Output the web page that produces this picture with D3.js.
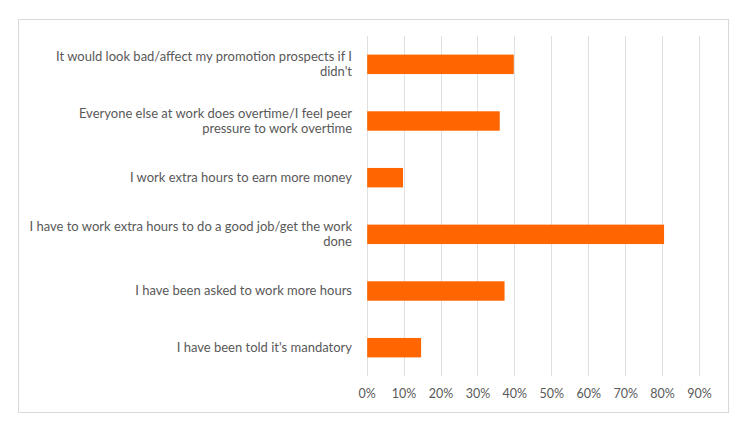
<!DOCTYPE html>
<html>
<head>
<meta charset="utf-8">
<script src="https://cdn.jsdelivr.net/npm/d3@7"></script>
<style>
  html, body { margin: 0; padding: 0; background: #fff; }
  #chart { width: 750px; height: 434px; }
  text { font-family: Lato, 'Open Sans', sans-serif; fill: #595959; }
</style>
</head>
<body>
<div id="chart"></div>
<script>
// reasons, top to bottom (\n marks where the label wraps)
const reasons = [
  "It would look bad/affect my promotion prospects if I\ndidn't",
  'Everyone else at work does overtime/I feel peer\npressure to work overtime',
  'I work extra hours to earn more money',
  'I have to work extra hours to do a good job/get the work\ndone',
  'I have been asked to work more hours',
  "I have been told it's mandatory"
]
const shares = [0.397, 0.359, 0.097, 0.804, 0.372, 0.146]
const ticks = [0, 0.1, 0.2, 0.3, 0.4, 0.5, 0.6, 0.7, 0.8, 0.9]

function drawChart () {
  const width = 750
  const height = 434
  const margin = { top: 36, right: 51, bottom: 58, left: 366.7 }
  const svg = d3.select('#chart')
    .append('svg')
    .attr('width', width)
    .attr('height', height)

  // chart area frame
  svg.append('rect')
    .attr('x', 18.5)
    .attr('y', 19.5)
    .attr('width', 710)
    .attr('height', 393)
    .attr('fill', '#fff')
    .attr('stroke', '#d9d9d9')

  const xScale = d3.scaleLinear()
    .domain([0, 0.9])
    .range([margin.left, width - margin.right])
  const yScale = d3.scaleBand()
    .domain(reasons)
    .range([margin.top, height - margin.bottom])
    .paddingInner(0.657)
    .paddingOuter(0.657 / 2)

  // gridlines
  svg.append('g')
    .selectAll('line')
    .data(ticks)
    .join('line')
    .attr('x1', d => Math.round(xScale(d)) + 0.5)
    .attr('x2', d => Math.round(xScale(d)) + 0.5)
    .attr('y1', margin.top)
    .attr('y2', height - margin.bottom)
    .attr('stroke', '#e0e0e0')

  // bars
  svg.append('g')
    .selectAll('rect')
    .data(shares)
    .join('rect')
    .attr('x', xScale(0) + 0.5)
    .attr('y', (d, i) => yScale(reasons[i]))
    .attr('width', d => xScale(d) - xScale(0))
    .attr('height', yScale.bandwidth())
    .attr('fill', '#ff6600')

  // x axis labels
  const axisX = d3.axisBottom(xScale)
    .tickValues(ticks)
    .tickFormat(d3.format('.0%'))
    .tickSize(0)
    .tickPadding(13)
  svg.append('g')
    .attr('class', 'axisX')
    .attr('transform', `translate(0, ${height - margin.bottom})`)
    .call(axisX)
    .call(g => g.select('.domain').remove())
    .selectAll('text')
    .attr('font-size', 12.5)
    .attr('font-family', null)
    .attr('fill', '#595959')

  // category labels
  const lineHeight = 15
  const labels = svg.append('g')
    .selectAll('text')
    .data(reasons)
    .join('text')
    .attr('text-anchor', 'end')
    .attr('font-size', 13)
    .attr('y', d => yScale(d) + yScale.bandwidth() / 2)
  labels.each(function (d) {
    const lines = d.split('\n')
    const offset = -(lines.length - 1) * lineHeight / 2
    d3.select(this)
      .selectAll('tspan')
      .data(lines)
      .join('tspan')
      .attr('x', 352)
      .attr('dy', (l, i) => i === 0 ? offset + 4.4 : lineHeight)
      .text(l => l)
  })
}

drawChart()
</script>
</body>
</html>
